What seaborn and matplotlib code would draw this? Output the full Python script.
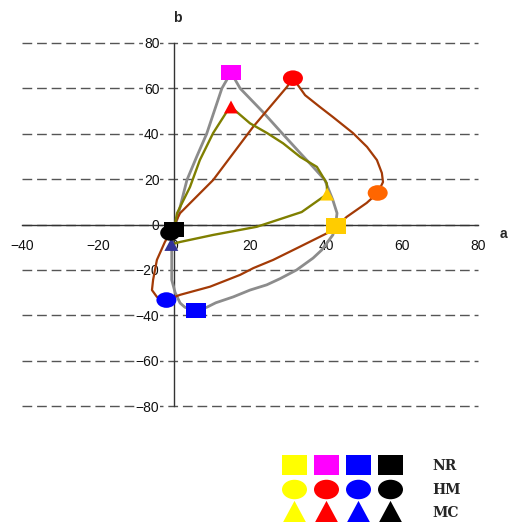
import matplotlib
matplotlib.use("Agg")
import matplotlib.pyplot as plt
from matplotlib.path import Path
from matplotlib.transforms import Affine2D
from matplotlib.lines import Line2D
from matplotlib.legend_handler import HandlerTuple
import seaborn as sns

# ---- closed colour-trajectory curves in the a*-b* plane ----
nr_a = [15, 17.4, 23.4, 28.4, 33.2, 36.6, 39.7, 41.8, 42.9, 42.5, 41.8, 38.9, 36.6, 32.3,
        28.0, 24.4, 20.0, 15.6, 11.0, 8.6, 5.9, 2.9, 1.6, 0.3, -0.6, -0.6, -0.6, 0.1,
        1.2, 3.4, 6.0, 8.6, 12.6, 15]
nr_b = [67, 60, 49.6, 40.3, 31.5, 25.4, 19.6, 10.8, 5.0, -0.7, -4.6, -11.2, -14.8, -20,
        -23.8, -26.6, -28.9, -31.9, -34.5, -36.5, -37.9, -36.5, -34.6, -30, -24.4, -14, -6, -2.2,
        5, 19.6, 30, 40, 60, 67]

hm_a = [31.3, 34.5, 38.4, 41.8, 47.1, 50.8, 53.4, 54.7, 55.0, 53.6, 50.7, 45.4, 42.0, 33.0,
        26.1, 20.9, 17.4, 9.5, 1.6, -2.0, -4.5, -5.8, -5.5, -4.5, -2.4, -1.0, 1.6, 10.3,
        20.8, 29.7, 31.3]
hm_b = [64.5, 57, 51.8, 47.4, 40.3, 34.2, 28.4, 22.7, 18.7, 13.9, 9.5, 3.3, -2.4, -9.9,
        -15.6, -19.2, -22.2, -27.4, -31, -33.3, -31.9, -28.9, -24.4, -15.6, -7.7, -3.7, 5, 19.6,
        43, 60.6, 64.5]

mc_a = [15, 20.0, 24.5, 28.7, 33.2, 37.6, 40.2, 40.3, 33.6, 21.8, 10.3, 1.6, -0.7,
        0.8, 4.2, 6.8, 10.3, 14.0, 15]
mc_b = [51.8, 44.6, 40.3, 35.8, 29.8, 25.4, 18.2, 13.4, 5.5, -1.0, -4.6, -7.7, -8.8,
        5, 16.5, 28.4, 40.3, 50, 51.8]

# ---- sample points (four stages per treatment) ----
stages = ["1", "2", "3", "4"]
nr_pts_a = [42.5, 15.0, 5.9, 0.1]
nr_pts_b = [-0.7, 67.0, -37.9, -2.2]
nr_pts_col = ["#ffcc00", "#ff00ff", "#0000ff", "#000000"]

hm_pts_a = [53.6, 31.3, -2.0, -1.0]
hm_pts_b = [13.9, 64.5, -33.3, -3.7]
hm_pts_col = ["#ff6600", "#ff0000", "#0000ff", "#000000"]

mc_pts_a = [40.3, 15.0, -0.7, 0.2]
mc_pts_b = [13.4, 51.8, -8.8, -1.8]
mc_pts_col = ["#ffcc00", "#ff0000", "#333399", "#000000"]

# legend swatches
legend_labels = ["NR", "HM", "MC"]
legend_cols = ["#ffff00", None, "#0000ff", "#000000"]
legend_second = ["#ff00ff", "#ff0000", "#ff0000"]

x_ticks = [-40, -20, 0, 20, 40, 60, 80]
y_ticks = [-80, -60, -40, -20, 0, 20, 40, 60, 80]

sns.set_theme(style="white")
plt.rcParams["font.family"] = ["Liberation Sans", "DejaVu Sans"]

fig = plt.figure(figsize=(5.08, 5.22), dpi=100)
ax = fig.add_axes([22 / 508, 116 / 522, 456 / 508, 363 / 522])

# marker shapes (slightly flattened box / ellipse)
box = Path([(-1, -0.78), (1, -0.78), (1, 0.78), (-1, 0.78), (-1, -0.78)], closed=True)
oval = Path.unit_circle().transformed(Affine2D().scale(1, 0.78))
tri = Path([(-1, -0.93), (1, -0.93), (0, 0.93), (-1, -0.93)], closed=True)

curves = [(nr_a, nr_b, "#8c8c8c", 2.0),
          (hm_a, hm_b, "#a33a06", 1.6),
          (mc_a, mc_b, "#7f7f00", 1.7)]
for a, b, col, lw in curves:
    sns.lineplot(x=a, y=b, sort=False, estimator=None, color=col, lw=lw,
                 ax=ax, zorder=3)

groups = [(mc_pts_a, mc_pts_b, mc_pts_col, tri, 10 ** 2),
          (hm_pts_a, hm_pts_b, hm_pts_col, oval, 14.4 ** 2),
          (nr_pts_a, nr_pts_b, nr_pts_col, box, 14.4 ** 2)]
for i, (a, b, cols, mk, s) in enumerate(groups):
    sns.scatterplot(x=a, y=b, hue=stages, palette=dict(zip(stages, cols)),
                    marker=mk, s=s, linewidth=0, legend=False, ax=ax,
                    zorder=5 + i, clip_on=False)

ax.set_xlim(-40, 80)
ax.set_ylim(-80, 80)
ax.set_xticks(x_ticks)
ax.set_yticks(y_ticks)
for side in ["top", "right"]:
    ax.spines[side].set_visible(False)
ax.spines["left"].set_position(("data", 0))
ax.spines["bottom"].set_position(("data", 0))
for side in ["left", "bottom"]:
    ax.spines[side].set_color("#333333")
    ax.spines[side].set_linewidth(1.0)
ax.tick_params(axis="both", direction="in", length=4, width=1, color="#333333",
               labelsize=10, labelcolor="#111111", pad=10.5)
ax.grid(False)
ax.yaxis.grid(True, color="#555555", lw=1.0, ls=(0, (7, 3.5)))
ax.set_axisbelow(True)
for gl in ax.get_ygridlines():
    gl.set_clip_on(False)
for lbl in ax.get_yticklabels():
    lbl.set_bbox(dict(facecolor="white", edgecolor="none", pad=0.5))

ax.set_xlabel("a", fontsize=10, fontweight="bold", ha="left", va="center")
ax.xaxis.set_label_coords((500 - 22) / 456, (406 - 233.5) / 363)
ax.set_ylabel("b", fontsize=10, fontweight="bold", rotation=0, ha="center", va="center")
ax.yaxis.set_label_coords((177 - 22) / 456, (406 - 18) / 363)

# legend: four coloured swatches per treatment
legend_shapes = [box, oval, tri]
handles = []
for shape, second in zip(legend_shapes, legend_second):
    cols = [legend_cols[0], second, legend_cols[2], legend_cols[3]]
    handles.append(tuple(
        Line2D([], [], ls="none", marker=shape, markersize=18,
               markerfacecolor=c, markeredgewidth=0) for c in cols))
fig.legend(handles, legend_labels,
           handler_map={tuple: HandlerTuple(ndivide=None, pad=0.6)},
           loc="center left", bbox_to_anchor=(282 / 508, 1 - 489.5 / 522),
           frameon=False, borderpad=0, borderaxespad=0, numpoints=1,
           handlelength=8.6, handletextpad=2.2, labelspacing=0.7,
           prop=dict(family="DejaVu Serif", weight="bold", size=10))

fig.savefig("out.png", dpi=100)
